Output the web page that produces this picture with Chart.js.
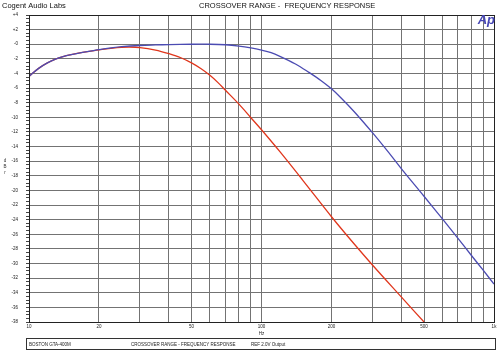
<!DOCTYPE html>
<html>
<head>
<meta charset="utf-8">
<script src="https://cdn.jsdelivr.net/npm/chart.js@4.4.1/dist/chart.umd.min.js"></script>
<style>
  html, body { margin: 0; padding: 0; background: #fff; }
  #wrap { width: 504px; height: 361px; position: relative; }
</style>
</head>
<body>
<div id="wrap"><canvas id="c" width="504" height="361"></canvas></div>
<script>
// ---- Data ----
const blueFreq = [10, 11, 12, 13, 14, 15, 17, 20, 23, 25, 30, 35, 40, 50, 60, 70, 80, 90, 100, 110, 120, 140, 160, 180, 200, 220, 250, 300, 350, 400, 500, 600, 700, 800, 900, 1000];
const blueDb   = [-4.4, -3.3, -2.55, -2.05, -1.7, -1.45, -1.1, -0.75, -0.45, -0.32, -0.17, -0.1, -0.05, 0, 0, -0.07, -0.25, -0.5, -0.8, -1.15, -1.65, -2.7, -3.85, -4.95, -6.1, -7.35, -9.2, -12.1, -14.7, -17.05, -20.8, -23.9, -26.55, -28.9, -30.95, -32.8];

const redFreq = [10, 11, 12, 13, 14, 15, 17, 20, 23, 25, 27, 30, 35, 40, 45, 50, 55, 60, 65, 70, 80, 90, 100, 120, 150, 200, 250, 300, 400, 500];
const redDb   = [-4.4, -3.3, -2.55, -2.05, -1.7, -1.45, -1.1, -0.78, -0.52, -0.42, -0.38, -0.45, -0.8, -1.3, -1.85, -2.55, -3.35, -4.25, -5.25, -6.3, -8.2, -10.05, -11.7, -14.7, -18.55, -23.6, -27.3, -30.2, -34.6, -38.0];

const xGridFreqs = [10, 20, 30, 40, 50, 60, 70, 80, 90, 100, 200, 300, 400, 500, 600, 700, 800, 900, 1000];
const xTickLabels = {10: '10', 20: '20', 50: '50', 100: '100', 200: '200', 500: '500', 1000: '1k'};
const yMajorTicks = [4, 2, 0, -2, -4, -6, -8, -10, -12, -14, -16, -18, -20, -22, -24, -26, -28, -30, -32, -34, -36, -38];

const headerLeft = 'Cogent Audio Labs';
const headerTitle = 'CROSSOVER RANGE -  FREQUENCY RESPONSE';
const footerTexts = ['BOSTON GTA-400M', 'CROSSOVER RANGE - FREQUENCY RESPONSE', 'REF 2.0V Output'];
const yTitleLetters = ['d', 'B', 'r'];
const xTitle = 'Hz';

const FONT = '"Liberation Sans", Arial, sans-serif';
const GRID = '#737373';

const toPts = (xs, ys) => xs.map((x, i) => ({x: x, y: ys[i]}));

const decor = {
  id: 'decor',
  beforeDraw(chart) {
    const ctx = chart.ctx;
    ctx.save();
    ctx.fillStyle = '#fff';
    ctx.fillRect(0, 0, chart.width, chart.height);
    ctx.restore();
  },
  afterDatasetsDraw(chart) {
    const ctx = chart.ctx;
    const a = chart.chartArea;
    ctx.save();
    // frame
    ctx.strokeStyle = '#222';
    ctx.lineWidth = 1;
    ctx.strokeRect(Math.round(a.left) + 0.5, Math.round(a.top) + 0.5, Math.round(a.right - a.left), Math.round(a.bottom - a.top));
    // header
    ctx.fillStyle = '#111';
    ctx.font = '7.5px ' + FONT;
    ctx.textBaseline = 'alphabetic';
    ctx.textAlign = 'left';
    ctx.fillText(headerLeft, 2, 8);
    ctx.fillText(headerTitle, 199, 8);
    // Ap logo
    ctx.fillStyle = '#4646b4';
    ctx.font = 'italic bold 13px ' + FONT;
    ctx.textAlign = 'right';
    ctx.fillText('Ap', 495, 24);
    // y title letters (stacked)
    ctx.fillStyle = '#333';
    ctx.font = '4.5px ' + FONT;
    ctx.textAlign = 'center';
    yTitleLetters.forEach((ch, i) => ctx.fillText(ch, 5, 162 + i * 6));
    // footer box
    ctx.strokeStyle = '#333';
    ctx.strokeRect(26.5, 338.5, 469, 11);
    ctx.fillStyle = '#222';
    ctx.textAlign = 'left';
    ctx.font = '4.5px ' + FONT;
    const fx = [29, 131, 251];
    footerTexts.forEach((t, i) => ctx.fillText(t, fx[i], 345.5));
    ctx.restore();
  }
};

new Chart(document.getElementById('c'), {
  type: 'line',
  data: {
    datasets: [
      {
        data: toPts(blueFreq, blueDb),
        borderColor: '#4b4bb2',
        borderWidth: 1.3,
        pointRadius: 0,
        tension: 0.35,
        fill: false
      },
      {
        data: toPts(redFreq, redDb),
        borderColor: '#e0361c',
        borderWidth: 1.3,
        pointRadius: 0,
        tension: 0.35,
        fill: false
      }
    ]
  },
  options: {
    responsive: false,
    animation: false,
    devicePixelRatio: 1,
    layout: { padding: { top: 15, right: 10, bottom: 25, left: 0 } },
    plugins: { legend: { display: false }, tooltip: { enabled: false } },
    scales: {
      x: {
        type: 'logarithmic',
        min: 10,
        max: 1000,
        afterBuildTicks(s) { s.ticks = xGridFreqs.map(v => ({value: v})); },
        afterFit(s) { s.height = 14; },
        ticks: {
          autoSkip: false,
          maxRotation: 0,
          minRotation: 0,
          padding: 2,
          color: '#222',
          font: { family: FONT, size: 4.5 },
          callback: (v) => xTickLabels[v] || ''
        },
        grid: { color: GRID, lineWidth: 1, drawTicks: false },
        border: { display: true, color: '#222' },
        title: { display: true, text: xTitle, color: '#222', font: { family: FONT, size: 4.5 }, padding: 0 }
      },
      y: {
        type: 'linear',
        min: -38,
        max: 4,
        afterBuildTicks(s) {
          const t = [];
          for (let v = -38; v <= 4.001; v += 0.5) t.push({value: Math.round(v * 10) / 10});
          s.ticks = t;
        },
        afterFit(s) { s.width = 29; },
        ticks: {
          autoSkip: false,
          padding: 8,
          color: '#222',
          font: { family: FONT, size: 4.5 },
          callback: (v) => {
            if (!yMajorTicks.includes(v)) return '';
            if (v > 0) return '+' + v;
            if (v === 0) return '-0';
            return String(v);
          }
        },
        grid: {
          lineWidth: 1,
          tickLength: 3,
          color: (ctx) => (ctx.tick && yMajorTicks.includes(ctx.tick.value)) ? GRID : 'rgba(0,0,0,0)',
          tickColor: '#444'
        },
        border: { display: true, color: '#222' }
      }
    }
  },
  plugins: [decor]
});
</script>
</body>
</html>
